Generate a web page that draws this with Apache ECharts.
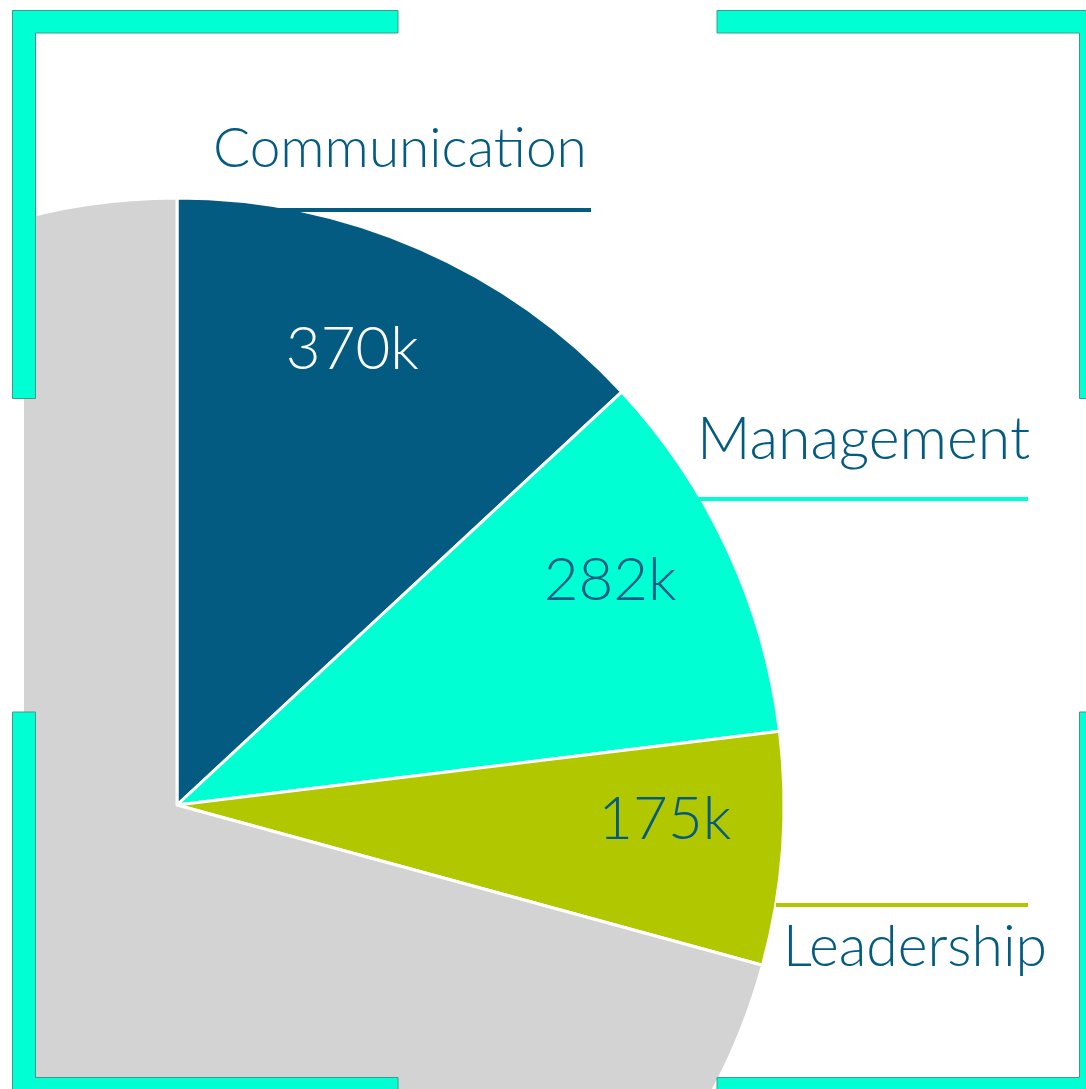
<!DOCTYPE html>
<html>
<head>
<meta charset="utf-8">
<script src="https://cdn.jsdelivr.net/npm/echarts@6/dist/echarts.min.js"></script>
<style>
  html, body { margin: 0; padding: 0; background: #fff; }
  #chart { width: 1086px; height: 1089px; }
</style>
</head>
<body>
<div id="chart"></div>
<script>
// skill split, values in thousands
const names = ['Communication', 'Management', 'Leadership', 'Other'];
const values = [370, 282, 175, 2000];
const sliceColors = ['#035b82', '#00ffd2', '#b1c800', '#d3d3d3'];
const valueLabelColors = ['#ffffff', '#035b82', '#035b82', '#035b82'];

const TEXT = '#035b82';
const FONT = 'Lato';
const center = [177, 805];
const R = 607;

// where each outer name label sits (top-left of its box)
const nameLabelPos = [
  { x: 213, y: 119 },
  { x: 697, y: 407 },
  { x: 776, y: 895 }
];

const chart = echarts.init(document.getElementById('chart'), null, { renderer: 'canvas' });

const nameRich = {
  tc: { fontFamily: FONT, fontWeight: 300, fontSize: 55, lineHeight: 60, color: TEXT },
  tm: { fontFamily: FONT, fontWeight: 300, fontSize: 59, lineHeight: 66, color: TEXT },
  tl: { fontFamily: FONT, fontWeight: 300, fontSize: 57, lineHeight: 66, color: TEXT, padding: [0, 0, 0, 7] },
  lc: { width: 378, height: 4, lineHeight: 62, backgroundColor: sliceColors[0] },
  lm: { width: 331, height: 4, lineHeight: 52, backgroundColor: sliceColors[1] },
  ll: { width: 252, height: 4, lineHeight: 20, backgroundColor: sliceColors[2] }
};

function nameFormatter(p) {
  if (p.dataIndex === 0) return '{tc|' + p.name + '}\n{lc|}';
  if (p.dataIndex === 1) return '{tm|' + p.name + '}\n{lm|}';
  if (p.dataIndex === 2) return '{ll|}\n{tl|' + p.name + '}';
  return '';
}

chart.setOption({
  animation: false,
  series: [
    {
      type: 'pie',
      center: center,
      radius: R,
      startAngle: 90,
      clockwise: true,
      avoidLabelOverlap: false,
      silent: true,
      itemStyle: { borderColor: '#ffffff', borderWidth: 3 },
      label: {
        show: true,
        position: 'outside',
        formatter: nameFormatter,
        rich: nameRich
      },
      labelLine: { show: false },
      labelLayout: function (p) {
        const pos = nameLabelPos[p.dataIndex];
        if (!pos) return {};
        return { x: pos.x, y: pos.y, align: 'left', verticalAlign: 'top' };
      },
      data: names.map((n, i) => ({
        name: n,
        value: values[i],
        itemStyle: { color: sliceColors[i] },
        label: { show: i < 3 }
      }))
    },
    {
      // invisible ring, only there to place the value labels (turned a touch anticlockwise)
      type: 'pie',
      center: center,
      radius: [363, R],
      startAngle: 92.5,
      clockwise: true,
      avoidLabelOverlap: false,
      silent: true,
      itemStyle: { color: 'rgba(0,0,0,0)', borderWidth: 0 },
      label: {
        show: true,
        position: 'inside',
        formatter: '{c}k',
        fontFamily: FONT,
        fontWeight: 300,
        fontSize: 60
      },
      labelLine: { show: false },
      data: names.map((n, i) => ({
        name: n,
        value: values[i],
        label: { show: i < 3, color: valueLabelColors[i] }
      }))
    }
  ],
  graphic: [
    // white strip that trims the grey slice on the left
    { type: 'rect', z: 100, shape: { x: 0, y: 0, width: 24, height: 1089 }, style: { fill: '#ffffff' } },
    { type: 'polygon', z: 101, shape: { points: [[12.5, 10.5], [398, 10.5], [398, 33], [35.5, 33], [35.5, 398.5], [12.5, 398.5]] }, style: { fill: '#00ffd2', stroke: '#3b9c8d', lineWidth: 1 } },
    { type: 'polygon', z: 101, shape: { points: [[717, 10.5], [1102, 10.5], [1102, 398.5], [1079.5, 398.5], [1079.5, 33], [717, 33]] }, style: { fill: '#00ffd2', stroke: '#3b9c8d', lineWidth: 1 } },
    { type: 'polygon', z: 101, shape: { points: [[12.5, 712], [35.5, 712], [35.5, 1077.5], [398, 1077.5], [398, 1100], [12.5, 1100]] }, style: { fill: '#00ffd2', stroke: '#3b9c8d', lineWidth: 1 } },
    { type: 'polygon', z: 101, shape: { points: [[1079.5, 712], [1102, 712], [1102, 1100], [717, 1100], [717, 1077.5], [1079.5, 1077.5]] }, style: { fill: '#00ffd2', stroke: '#3b9c8d', lineWidth: 1 } }
  ]
});
</script>
</body>
</html>
